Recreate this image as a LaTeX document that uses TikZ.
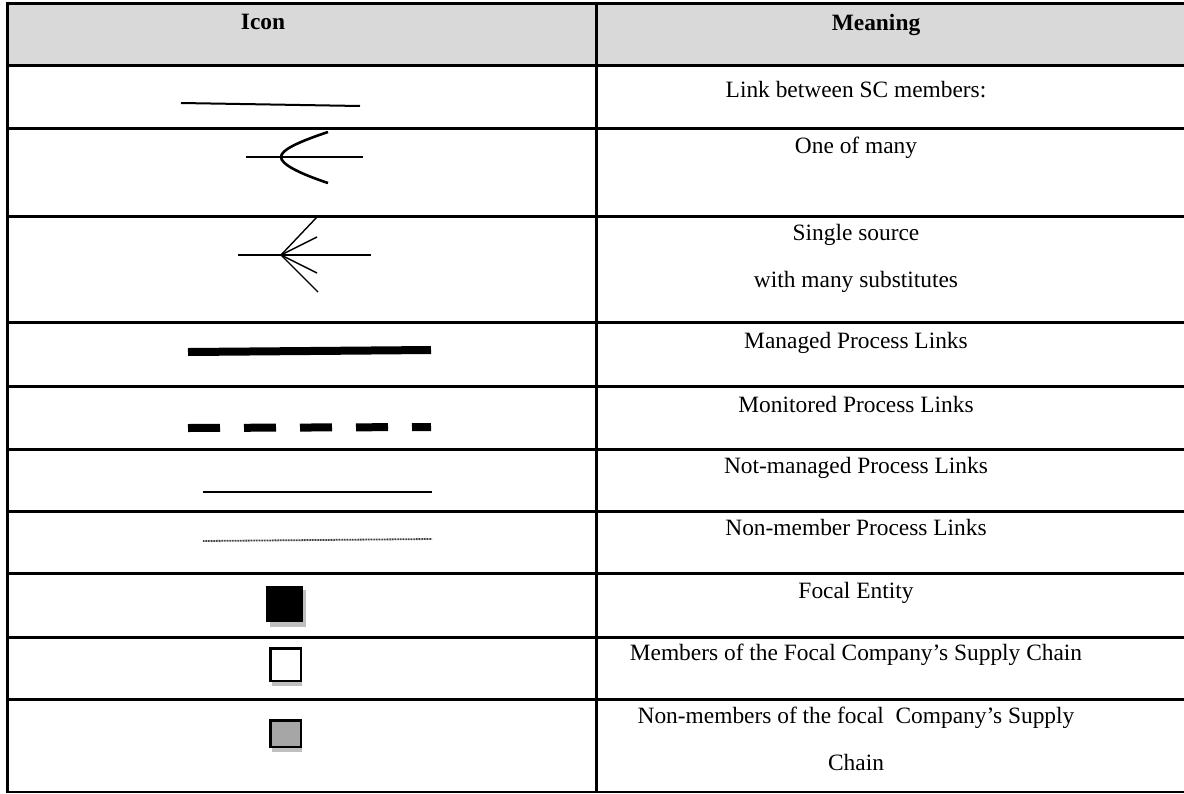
\documentclass[tikz,border=0pt]{standalone}
\usepackage{fontspec}
\setmainfont{Liberation Serif}
\begin{document}
\begin{tikzpicture}[x=1pt,y=-1pt,
  txt/.style={anchor=base, inner sep=0pt, font=\fontsize{23.4}{28}\selectfont},
  hdr/.style={anchor=base, inner sep=0pt, font=\fontsize{23.4}{28}\selectfont\bfseries},
  rowrule/.style={line width=3pt},
  shadowfill/.style={fill=black!25},
  sq/.style={inner sep=0pt, anchor=north west}
]
\definecolor{hdrgray}{HTML}{D9D9D9}
\definecolor{midgray}{HTML}{A6A6A6}
\useasboundingbox (0,0) rectangle (1184,793);
% header background
\fill[hdrgray] (7,3) rectangle (1184,65);
% horizontal rules
\foreach \yy in {3,65,128,216,322,386,449,511,573,637,699} {
  \draw[rowrule] (5.5,\yy) -- (1184,\yy);
}
\draw[line width=1.4pt] (5.5,792) -- (1184,792);
% vertical rules
\draw[rowrule] (7,1.5) -- (7,792.7);
\draw[rowrule] (596,1.5) -- (596,792.7);

% header text
\node[hdr] (hIcon) at (263,29) {Icon};
\node[hdr] (hMean) at (876,30) {Meaning};

% meanings
\node[txt] (t1) at (856,97) {Link between SC members:};
\node[txt] (t2) at (856,153) {One of many};
\node[txt] (t3a) at (856,240) {Single source};
\node[txt] (t3b) at (856,287) {with many substitutes};
\node[txt] (t4) at (856,348) {Managed Process Links};
\node[txt] (t5) at (856,412) {Monitored Process Links};
\node[txt] (t6) at (856,473) {Not-managed Process Links};
\node[txt] (t7) at (856,535) {Non-member Process Links};
\node[txt] (t8) at (856,598) {Focal Entity};
\node[txt] (t9) at (856,660) {Members of the Focal Company’s Supply Chain};
\node[txt] (t10a) at (856,723) {Non-members of the focal\ \ Company’s Supply};
\node[txt] (t10b) at (856,770) {Chain};

% icon 1: link
\coordinate (l1a) at (181,103);
\coordinate (l1b) at (360,106);
\draw[line width=2pt] (l1a) -- (l1b);

% icon 2: one of many
\coordinate (l2a) at (246,157);
\coordinate (l2b) at (363,157);
\coordinate (l2v) at (281,157);
\coordinate (l2t) at (328,132);
\coordinate (l2u) at (328,183);
\draw[line width=2.6pt] (l2a) -- (l2b);
\draw[line width=2.6pt] (l2t) .. controls (298,142) and (281,150) .. (l2v)
  .. controls (281,164) and (298,173) .. (l2u);

% icon 3: single source with many substitutes
\coordinate (l3a) at (238,255);
\coordinate (l3b) at (371,255);
\coordinate (l3v) at (281,255);
\coordinate (l3r1) at (317,217);
\coordinate (l3r2) at (317,237);
\coordinate (l3r3) at (317,273);
\coordinate (l3r4) at (318,292);
\draw[line width=2.6pt] (l3a) -- (l3b);
\foreach \r in {l3r1,l3r2,l3r3,l3r4} \draw[line width=1.4pt] (l3v) -- (\r);

% icon 4: managed
\coordinate (l4a) at (188,352);
\coordinate (l4b) at (431,350);
\draw[line width=8pt] (l4a) -- (l4b);

% icon 5: monitored (dashed)
\coordinate (l5a) at (188,428);
\coordinate (l5b) at (431,427);
\draw[line width=8pt, dash pattern=on 32pt off 24pt] (l5a) -- (l5b);

% icon 6: not-managed
\coordinate (l6a) at (203,492);
\coordinate (l6b) at (432,492);
\draw[line width=2.2pt] (l6a) -- (l6b);

% icon 7: non-member (fine dotted)
\coordinate (l7a) at (203,541);
\coordinate (l7b) at (432,539);
\draw[line width=1.8pt, black!75, dash pattern=on 1pt off 0.6pt] (l7a) -- (l7b);

% icon 8: focal entity
\fill[shadowfill] (270,590) rectangle (306,627);
\node[sq, fill=black, minimum width=37pt, minimum height=36pt] (sq1) at (266,586) {};

% icon 9: members
\fill[shadowfill] (272,650) rectangle (302,686);
\node[sq, fill=white, draw=black, line width=2.5pt, minimum width=30.5pt, minimum height=32.5pt] (sq2) at (269.25,647.25) {};

% icon 10: non-members
\fill[shadowfill] (272,722) rectangle (302,752);
\node[sq, fill=midgray, draw=black, line width=2.5pt, minimum width=30.5pt, minimum height=26.5pt] (sq3) at (269.25,719.25) {};
\end{tikzpicture}
\end{document}
